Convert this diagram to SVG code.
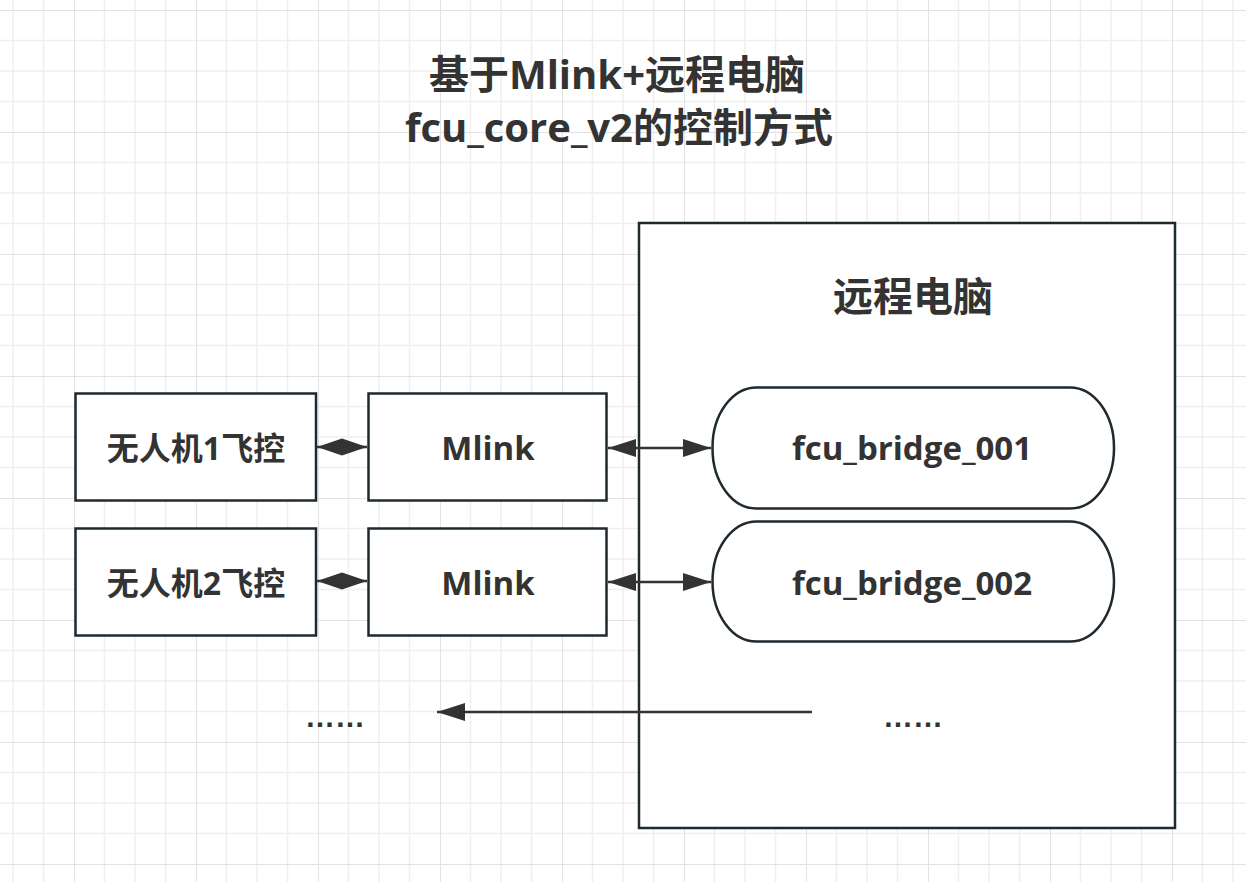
<svg xmlns="http://www.w3.org/2000/svg" width="1246" height="882" viewBox="0 0 1246 882">
  <defs>
    <pattern id="grid" patternUnits="userSpaceOnUse" x="74" y="10" width="122" height="122">
      <rect width="122" height="122" fill="#ffffff"/>
      <g fill="#efefef">
        <rect x="29.75" y="0" width="1.5" height="122"/>
        <rect x="60.25" y="0" width="1.5" height="122"/>
        <rect x="90.75" y="0" width="1.5" height="122"/>
        <rect x="0" y="29.75" width="122" height="1.5"/>
        <rect x="0" y="60.25" width="122" height="1.5"/>
        <rect x="0" y="90.75" width="122" height="1.5"/>
      </g>
      <g fill="#e2e2e2">
        <rect x="-1" y="0" width="2" height="122"/>
        <rect x="0" y="-1" width="122" height="2"/>
      </g>
    </pattern>
    <marker id="arrow" markerUnits="userSpaceOnUse" markerWidth="30" markerHeight="20" refX="28" refY="9" orient="auto-start-reverse">
      <path d="M0,0 L28,9 L0,18 Z" fill="#333333"/>
    </marker>
    <marker id="diamond" markerUnits="userSpaceOnUse" markerWidth="52" markerHeight="20" refX="50" refY="9" orient="auto">
      <path d="M0,9 L25,0.5 L50,9 L25,17.5 Z" fill="#333333"/>
    </marker>
    <style>
      .node { fill: #ffffff; stroke: #1f2930; stroke-width: 2.5; }
      .lbl { font-family: "Open Sans", "Noto Sans CJK SC", sans-serif; font-weight: bold; fill: #333333; text-anchor: middle; }
      .conn { stroke: #333333; stroke-width: 2.5; fill: none; }
      .dots { font-family: "Liberation Sans", sans-serif; font-weight: bold; fill: #333333; font-size: 30px; }
    </style>
  </defs>

  <rect x="0" y="0" width="1246" height="882" fill="url(#grid)"/>

  <g id="title">
    <text class="lbl" x="617" y="89" font-size="40">基于Mlink+远程电脑</text>
    <text class="lbl" x="619" y="142" font-size="40">fcu_core_v2的控制方式</text>
  </g>

  <g id="remote-pc">
    <rect class="node" x="639" y="223" width="536" height="605"/>
    <text class="lbl" x="913" y="311" font-size="40">远程电脑</text>
  </g>

  <g id="uav1">
    <rect class="node" x="75.5" y="393.5" width="240.5" height="107"/>
    <text class="lbl" x="196" y="460" font-size="32">无人机1飞控</text>
  </g>
  <g id="mlink1">
    <rect class="node" x="368.5" y="393.5" width="238" height="107"/>
    <text class="lbl" x="488" y="460" font-size="33">Mlink</text>
  </g>
  <g id="bridge1">
    <rect class="node" x="712.5" y="387.5" width="401.5" height="121" rx="44" ry="60"/>
    <text class="lbl" x="912" y="460" font-size="33">fcu_bridge_001</text>
  </g>

  <g id="uav2">
    <rect class="node" x="75.5" y="528.5" width="240.5" height="107"/>
    <text class="lbl" x="196" y="595" font-size="32">无人机2飞控</text>
  </g>
  <g id="mlink2">
    <rect class="node" x="368.5" y="528.5" width="238" height="107"/>
    <text class="lbl" x="488" y="595" font-size="33">Mlink</text>
  </g>
  <g id="bridge2">
    <rect class="node" x="712.5" y="521.5" width="401.5" height="120" rx="44" ry="60"/>
    <text class="lbl" x="912" y="595" font-size="33">fcu_bridge_002</text>
  </g>

  <g id="more-left">
    <text class="dots" x="305" y="727">……</text>
  </g>
  <g id="more-right">
    <text class="dots" x="883" y="727">……</text>
  </g>

  <g id="connectors">
    <path class="conn" d="M317,447 L367,447" marker-end="url(#diamond)"/>
    <path class="conn" d="M317,581 L367,581" marker-end="url(#diamond)"/>
    <path class="conn" d="M608,448 L711,448" marker-start="url(#arrow)" marker-end="url(#arrow)"/>
    <path class="conn" d="M608,582 L711,582" marker-start="url(#arrow)" marker-end="url(#arrow)"/>
    <path class="conn" d="M812,712 L437,712" marker-end="url(#arrow)"/>
  </g>
</svg>
